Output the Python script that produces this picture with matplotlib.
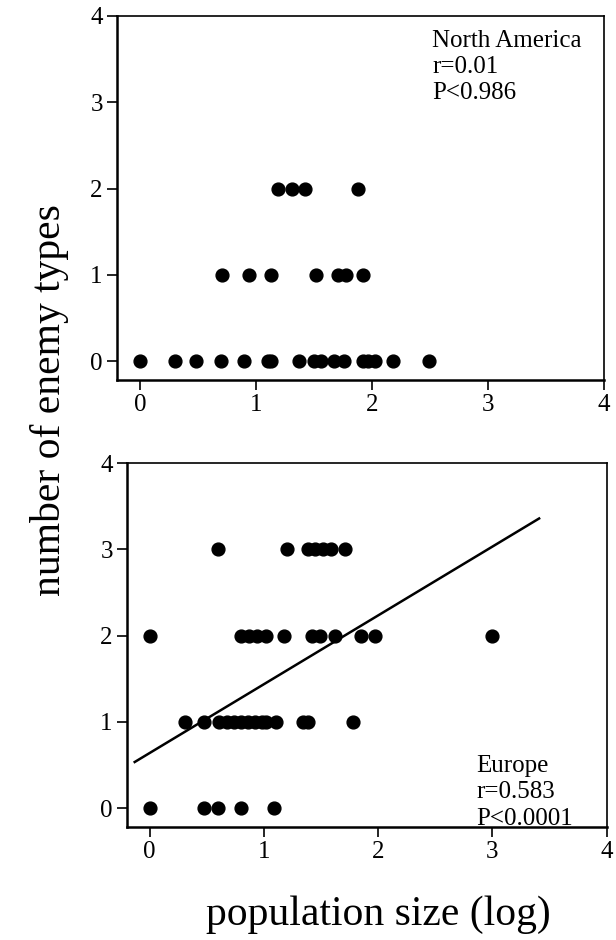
import matplotlib
matplotlib.use("Agg")
import matplotlib.pyplot as plt
import numpy as np

plt.rcParams['font.family'] = ['Liberation Serif', 'DejaVu Serif']

# North America: log population size vs number of enemy types
na_x = [0.0, 0.30, 0.48, 0.70, 0.90, 1.10, 1.13, 1.37, 1.50, 1.56, 1.67, 1.76,
        1.92, 1.97, 2.03, 2.18, 2.49,
        0.71, 0.94, 1.13, 1.52, 1.71, 1.78, 1.92,
        1.19, 1.31, 1.42, 1.88]
na_y = [0] * 17 + [1] * 7 + [2] * 4

# Europe
eu_x = [0.0, 0.48, 0.60, 0.80, 1.09,
        0.31, 0.48, 0.61, 0.68, 0.74, 0.80, 0.86, 0.92, 0.98, 1.02, 1.11, 1.34, 1.39, 1.78,
        0.0, 0.80, 0.87, 0.94, 1.02, 1.18, 1.42, 1.49, 1.62, 1.85, 1.97, 3.0,
        0.60, 1.20, 1.39, 1.45, 1.52, 1.59, 1.71]
eu_y = [0] * 5 + [1] * 14 + [2] * 12 + [3] * 7

# regression line for Europe
eu_fit_x = [-0.13, 3.41]
eu_fit_slope = 0.797
eu_fit_icpt = 0.64

fig = plt.figure(figsize=(6.16, 9.4), dpi=100)
ax1 = fig.add_axes([0.1894, 0.5957, 0.7911, 0.3873])
ax2 = fig.add_axes([0.2057, 0.1199, 0.7789, 0.3875])


def style_axes(ax):
    ax.set_xlim(-0.2, 4.0)
    ax.set_ylim(-0.22, 4.0)
    ax.set_xticks([0, 1, 2, 3, 4])
    ax.set_yticks([0, 1, 2, 3, 4])
    ax.tick_params(direction='out', length=7, width=1.2, labelsize=18,
                   top=False, right=False, pad=3)
    for s in ['left', 'bottom']:
        ax.spines[s].set_linewidth(1.8)
    for s in ['top', 'right']:
        ax.spines[s].set_linewidth(1.2)


ax1.scatter(na_x, na_y, s=85, color='black', zorder=3)
style_axes(ax1)
ax1.text(0.647, 0.962, "North America\nr=0.01\nP<0.986", transform=ax1.transAxes,
         ha='left', va='top', fontsize=18, linespacing=1.25)

ax2.scatter(eu_x, eu_y, s=85, color='black', zorder=3)
fx = np.array(eu_fit_x)
ax2.plot(fx, eu_fit_icpt + eu_fit_slope * fx, color='black', lw=1.8)
style_axes(ax2)
ax2.text(0.728, 0.198, "Europe\nr=0.583\nP<0.0001", transform=ax2.transAxes,
         ha='left', va='top', fontsize=18, linespacing=1.25)

fig.text(0.081, 0.574, "number of enemy types", rotation=90, ha='center',
         va='center', fontsize=30)
fig.text(0.614, 0.027, "population size (log)", ha='center', va='center',
         fontsize=30)

fig.savefig("out.png", dpi=100)
